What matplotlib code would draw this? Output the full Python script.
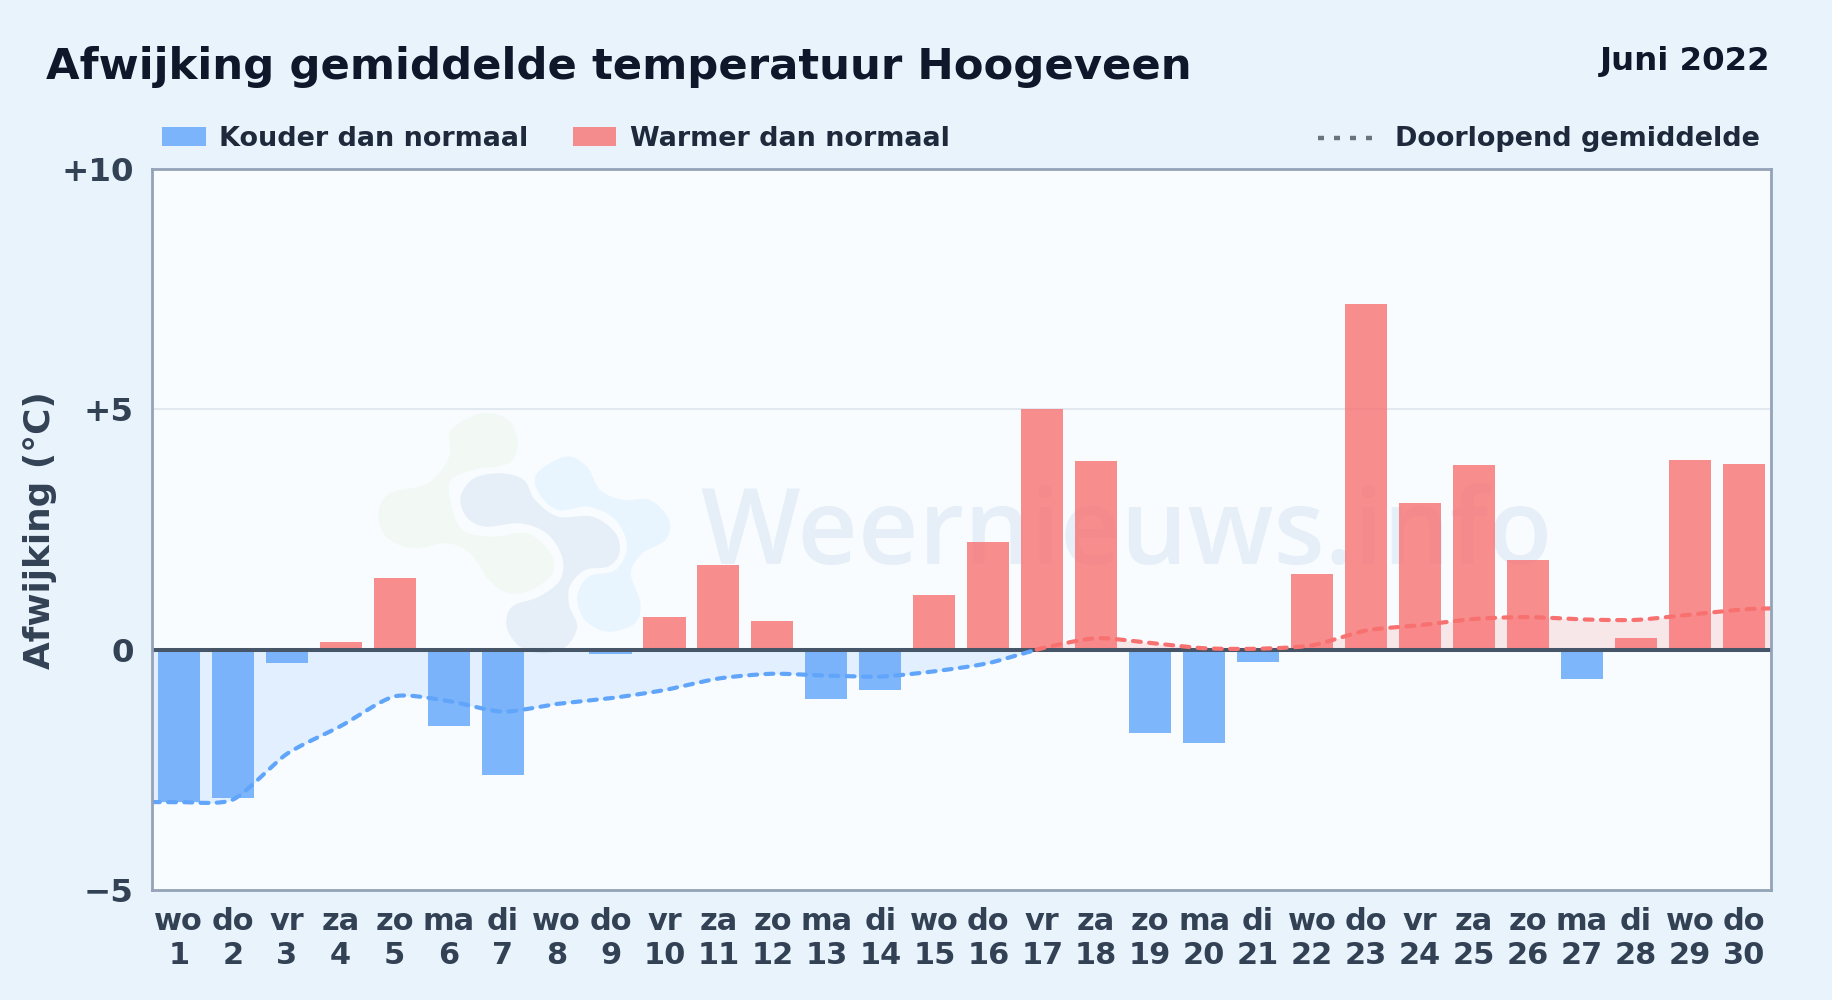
import numpy as np
import matplotlib
matplotlib.use("Agg")
import matplotlib.pyplot as plt
from matplotlib.patches import PathPatch, Rectangle
from matplotlib.path import Path
from matplotlib.lines import Line2D
from matplotlib.transforms import Affine2D

W, H = 1832, 1000
days = list(range(1, 31))
weekdays = ["wo","do","vr","za","zo","ma","di"] * 4 + ["wo","do"]
deviation = [-3.17,-3.08,-0.28,0.15,1.50,-1.58,-2.60,-0.05,-0.08,0.69,1.77,0.60,-1.03,-0.83,1.13,
             2.24,5.00,3.92,-1.74,-1.95,-0.25,1.58,7.20,3.06,3.84,1.87,-0.60,0.25,3.95,3.87]
running_days = [0.5] + days + [30.5]
running_mean = [-3.17,-3.17,-3.12,-2.17,-1.59,-0.97,-1.07,-1.29,-1.13,-1.01,-0.84,-0.60,-0.50,-0.54,-0.56,-0.45,
                -0.28,0.03,0.24,0.14,0.03,0.02,0.09,0.40,0.51,0.64,0.68,0.63,0.62,0.73,0.84,0.86]
y_ticks = [-5, 0, 5, 10]
y_labels = ["\u22125", "0", "+5", "+10"]
title = "Afwijking gemiddelde temperatuur Hoogeveen"
period = "Juni 2022"
legend_labels = ["Kouder dan normaal", "Warmer dan normaal", "Doorlopend gemiddelde"]

BLUE, RED = "#60a5fa", "#f87171"
plt.rcParams["font.family"] = "DejaVu Sans"
fig = plt.figure(figsize=(W/100, H/100), dpi=100, facecolor="#e8f3fc")
px = Affine2D().scale(1/W, -1/H).translate(0, 1) + fig.transFigure

L, R, T, B = 151.8, 1770.8, 169.1, 890.0
ax = fig.add_axes([L/W, 1-B/H, (R-L)/W, (B-T)/H], facecolor="#f8fcff")
ax.set_xlim(0.5, 30.5)
ax.set_ylim(-5, 10)

# watermark logo
def blob(points, color):
    p = np.array(points, float)
    p = np.column_stack([340 + p[:, 0]/2.613, 390 + p[:, 1]/3])
    n = len(p)
    verts, codes = [p[0]], [Path.MOVETO]
    for i in range(n):
        p0, p1, p2, p3 = p[i-1], p[i], p[(i+1) % n], p[(i+2) % n]
        verts += [p1 + (p2-p0)/6, p2 - (p3-p1)/6, p2]
        codes += [Path.CURVE4]*3
    ax.add_patch(PathPatch(Path(verts, codes), fc=color, ec="none", transform=px, zorder=1))

blob([(370,70),(440,90),(465,160),(440,220),(350,240),(290,270),(290,340),(320,420),(400,440),(490,430),(550,490),
      (555,550),(500,600),(440,610),(390,570),(340,490),(280,460),(190,475),(120,440),(100,370),(130,310),(230,280),
      (285,200),(290,120)], "#f2f9f5")
blob([(420,250),(480,270),(510,330),(570,380),(660,380),(720,430),(730,490),(700,530),(640,540),(600,590),(600,650),
      (620,710),(590,770),(530,790),(470,770),(435,710),(450,650),(520,620),(575,570),(580,500),(540,430),(470,400),
      (380,410),(330,380),(315,320),(350,265)], "#e6eff8")
blob([(590,200),(645,230),(680,300),(740,330),(810,330),(860,390),(850,450),(790,490),(760,550),(785,640),(770,700),
      (700,725),(640,690),(620,620),(650,560),(720,540),(750,470),(720,390),(650,350),(570,360),(520,310),(515,250)],
     "#e8f5fe")
ax.text(700, 564, "Weernieuws.info", transform=px, fontsize=75.8, family="Open Sans", fontweight="semibold",
        color="#e6eff8", ha="left", va="baseline", zorder=1.5)

# grid and bars
ax.axhline(5, color="#e2e8f0", lw=1.5, zorder=2)
colors = [BLUE if v < 0 else RED for v in deviation]
ax.bar(days, deviation, width=0.78, color=colors, alpha=0.8, lw=0, zorder=4)

# low-tension smoothing of the running mean through its daily values
P = np.column_stack([running_days, running_mean])
TAU = 0.12
xs, ys = [], []
for i in range(len(P)-1):
    prev, nxt = P[max(i-1, 0)], P[min(i+2, len(P)-1)]
    c1, c2 = P[i] + TAU*(P[i+1]-prev), P[i+1] - TAU*(nxt-P[i])
    t = np.linspace(0, 1, 24, endpoint=False)[:, None]
    c = (1-t)**3*P[i] + 3*(1-t)**2*t*c1 + 3*(1-t)*t**2*c2 + t**3*P[i+1]
    xs.append(c[:, 0])
    ys.append(c[:, 1])
xs = np.concatenate(xs + [[P[-1, 0]]])
ys = np.concatenate(ys + [[P[-1, 1]]])
ax.fill_between(xs, ys, 0, where=ys <= 0, interpolate=True, color=BLUE, alpha=0.15, lw=0, zorder=3)
ax.fill_between(xs, ys, 0, where=ys >= 0, interpolate=True, color=RED, alpha=0.15, lw=0, zorder=3)
dash = dict(lw=3.0, dashes=(1.9, 2.0), dash_capstyle="round", zorder=6)
ax.plot(xs, np.ma.masked_where(ys > 0, ys), color=BLUE, **dash)
ax.plot(xs, np.ma.masked_where(ys < 0, ys), color=RED, **dash)
ax.axhline(0, color="#475569", lw=2.9, zorder=5)

# axes furniture
for sp in ax.spines.values():
    sp.set_color("#94a3b8")
    sp.set_linewidth(2.0)
    sp.set_zorder(7)
ax.set_yticks(y_ticks, y_labels, fontsize=23.4, fontweight="bold", color="#334155")
ax.set_xticks(days, [f"{w}\n{d}" for w, d in zip(weekdays, days)], fontsize=21.9, fontweight="bold",
              color="#334155", linespacing=1.2)
ax.tick_params(axis="both", length=0)
ax.tick_params(axis="y", pad=13)
ax.tick_params(axis="x", pad=12.5)

txt = dict(transform=px, fontweight="bold")
fig.text(46.5, 79, title, fontsize=31.2, color="#0f172a", ha="left", va="baseline", **txt)
fig.text(1770.5, 70, period, fontsize=23.3, color="#0f172a", ha="right", va="baseline", **txt)
fig.text(40, 530, "Afwijking (\u00b0C)", fontsize=25.8, color="#334155", rotation=90, ha="center", va="center", **txt)

fig.add_artist(Rectangle((162, 127), 44, 19, transform=px, fc=BLUE, alpha=0.8, lw=0))
fig.add_artist(Rectangle((573, 127), 43, 19, transform=px, fc=RED, alpha=0.8, lw=0))
fig.add_artist(Line2D([1318, 1373], [137.5, 137.5], transform=px, color="#6b7280", lw=3.2, dashes=(1.35, 2.25)))
leg = dict(fontsize=19.47, color="#1e293b", ha="left", va="baseline", **txt)
fig.text(219, 146, legend_labels[0], **leg)
fig.text(630, 146, legend_labels[1], **leg)
fig.text(1395, 146, legend_labels[2], **leg)

fig.savefig("out.png", dpi=100, facecolor=fig.get_facecolor())
